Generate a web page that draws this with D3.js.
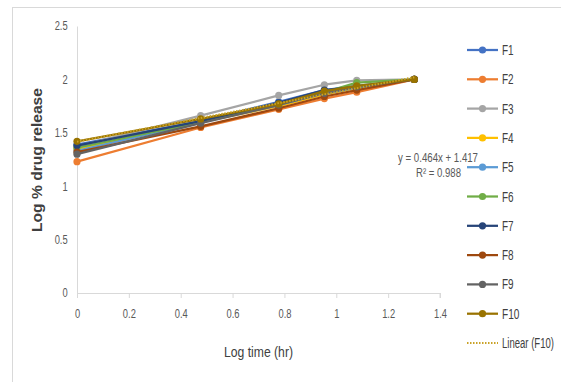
<!DOCTYPE html>
<html>
<head>
<meta charset="utf-8">
<script src="https://cdn.jsdelivr.net/npm/d3@7"></script>
<style>
  body { margin: 0; background: #fff; }
  svg text { font-family: "Liberation Sans", Arial, sans-serif; }
</style>
</head>
<body>
<div id="chart"></div>
<script>
// log time (hr) for 1, 3, 6, 9, 12, 20 hr
const logTime = [0, 0.477, 0.778, 0.954, 1.079, 1.301];
const seriesNames = ['F1', 'F2', 'F3', 'F4', 'F5', 'F6', 'F7', 'F8', 'F9', 'F10'];
const F1 = [1.39, 1.61, 1.79, 1.90, 1.94, 2.00];
const F2 = [1.23, 1.55, 1.72, 1.82, 1.88, 2.00];
const F3 = [1.37, 1.66, 1.85, 1.95, 1.99, 2.00];
const F4 = [1.35, 1.60, 1.75, 1.86, 1.92, 2.00];
const F5 = [1.33, 1.60, 1.76, 1.87, 1.92, 2.00];
const F6 = [1.36, 1.60, 1.77, 1.88, 1.97, 2.00];
const F7 = [1.38, 1.61, 1.78, 1.90, 1.93, 2.00];
const F8 = [1.32, 1.56, 1.73, 1.84, 1.90, 2.00];
const F9 = [1.30, 1.59, 1.76, 1.87, 1.93, 2.00];
const F10 = [1.42, 1.63, 1.77, 1.89, 1.94, 2.00];
const colors = ['#4472C4', '#ED7D31', '#A5A5A5', '#FFC000', '#5B9BD5', '#70AD47', '#264478', '#9E480E', '#636363', '#997300'];
const xTicks = [0, 0.2, 0.4, 0.6, 0.8, 1, 1.2, 1.4];
const yTicks = [0, 0.5, 1, 1.5, 2, 2.5];
// linear trendline of F10
const slope = 0.464, intercept = 1.417, r2 = 0.988;

const allValues = [F1, F2, F3, F4, F5, F6, F7, F8, F9, F10];
const width = 561, height = 382;
const margin = { top: 26, left: 77, right: 121, bottom: 89 };

const svg = d3.select('#chart').append('svg')
  .attr('width', width)
  .attr('height', height);

// chart frame
svg.append('rect')
  .attr('x', 12.5).attr('y', 7.5)
  .attr('width', 600).attr('height', 400)
  .attr('fill', 'none').attr('stroke', '#d9d9d9');

const x = d3.scaleLinear().domain([0, 1.4]).range([margin.left, width - margin.right]);
const y = d3.scaleLinear().domain([0, 2.5]).range([height - margin.bottom, margin.top]);

// x axis
const xAxis = svg.append('g')
  .attr('transform', `translate(0, ${y(0)})`)
  .call(d3.axisBottom(x).tickValues(xTicks).tickSize(5).tickPadding(10).tickFormat(d3.format('')));
xAxis.select('.domain').attr('stroke', '#d9d9d9').attr('d', `M${x(0)},0.5H${x(1.4)}V5`);
xAxis.selectAll('.tick line').attr('stroke', '#d9d9d9');
xAxis.selectAll('.tick text').attr('fill', '#595959').style('font-size', '11px')
  .attr('transform', 'scale(0.85,1.1)');

// y axis
const yAxis = svg.append('g')
  .attr('transform', `translate(${x(0)}, 0)`)
  .call(d3.axisLeft(y).tickValues(yTicks).tickSize(0).tickPadding(11).tickFormat(d3.format('')));
yAxis.select('.domain').attr('stroke', '#d9d9d9');
yAxis.selectAll('.tick text').attr('fill', '#595959').style('font-size', '11px')
  .attr('transform', 'scale(0.85,1.1)');

// axis titles
svg.append('text')
  .attr('x', 224).attr('y', 357)
  .attr('textLength', 69).attr('lengthAdjust', 'spacingAndGlyphs')
  .attr('fill', '#404040')
  .style('font-size', '14px')
  .text('Log time (hr)');
svg.append('text')
  .attr('transform', 'translate(42, 232) rotate(-90)')
  .attr('textLength', 144).attr('lengthAdjust', 'spacingAndGlyphs')
  .attr('fill', '#404040')
  .style('font-size', '14px')
  .style('font-weight', 'bold')
  .text('Log % drug release');

const line = d3.line()
  .x((d, i) => x(logTime[i]))
  .y(d => y(d));

// series
allValues.forEach((vals, k) => {
  const g = svg.append('g').attr('class', 'series');
  g.append('path')
    .datum(vals)
    .attr('d', line)
    .attr('fill', 'none')
    .attr('stroke', colors[k])
    .attr('stroke-width', 2.25)
    .attr('stroke-linejoin', 'round');
  g.selectAll('circle')
    .data(vals)
    .enter()
    .append('circle')
    .attr('cx', (d, i) => x(logTime[i]))
    .attr('cy', d => y(d))
    .attr('r', 3.6)
    .attr('fill', colors[k]);
});

// trendline
const tx0 = logTime[0], tx1 = logTime[logTime.length - 1];
svg.append('line')
  .attr('x1', x(tx0)).attr('y1', y(slope * tx0 + intercept))
  .attr('x2', x(tx1)).attr('y2', y(slope * tx1 + intercept))
  .attr('stroke', '#c9a227')
  .attr('stroke-width', 2)
  .attr('stroke-dasharray', '1.5,1.5');

// trendline equation
svg.append('text')
  .attr('x', 398).attr('y', 162)
  .attr('textLength', 80).attr('lengthAdjust', 'spacingAndGlyphs')
  .attr('fill', '#595959')
  .style('font-size', '13px')
  .text(`y = ${slope}x + ${intercept}`);
svg.append('text')
  .attr('x', 416).attr('y', 177)
  .attr('textLength', 45).attr('lengthAdjust', 'spacingAndGlyphs')
  .attr('fill', '#595959')
  .style('font-size', '13px')
  .text(`R² = ${r2}`);

// legend
const legendTop = 50, legendStep = 29.3;
const legend = svg.append('g');
seriesNames.forEach((name, k) => {
  const ly = legendTop + k * legendStep;
  legend.append('line')
    .attr('x1', 467).attr('x2', 498)
    .attr('y1', ly).attr('y2', ly)
    .attr('stroke', colors[k]).attr('stroke-width', 2.25);
  legend.append('circle')
    .attr('cx', 482.5).attr('cy', ly).attr('r', 3.6)
    .attr('fill', colors[k]);
  legend.append('text')
    .attr('x', 502).attr('y', ly + 5)
    .attr('textLength', name.length * 5.8).attr('lengthAdjust', 'spacingAndGlyphs')
    .attr('fill', '#404040')
    .style('font-size', '14px')
    .text(name);
});
const lly = legendTop + seriesNames.length * legendStep;
legend.append('line')
  .attr('x1', 467).attr('x2', 498)
  .attr('y1', lly).attr('y2', lly)
  .attr('stroke', '#c9a227').attr('stroke-width', 2)
  .attr('stroke-dasharray', '1.5,1.5');
legend.append('text')
  .attr('x', 502).attr('y', lly + 5)
  .attr('textLength', 52).attr('lengthAdjust', 'spacingAndGlyphs')
  .attr('fill', '#404040')
  .style('font-size', '14px')
  .text('Linear (F10)');
</script>
</body>
</html>
